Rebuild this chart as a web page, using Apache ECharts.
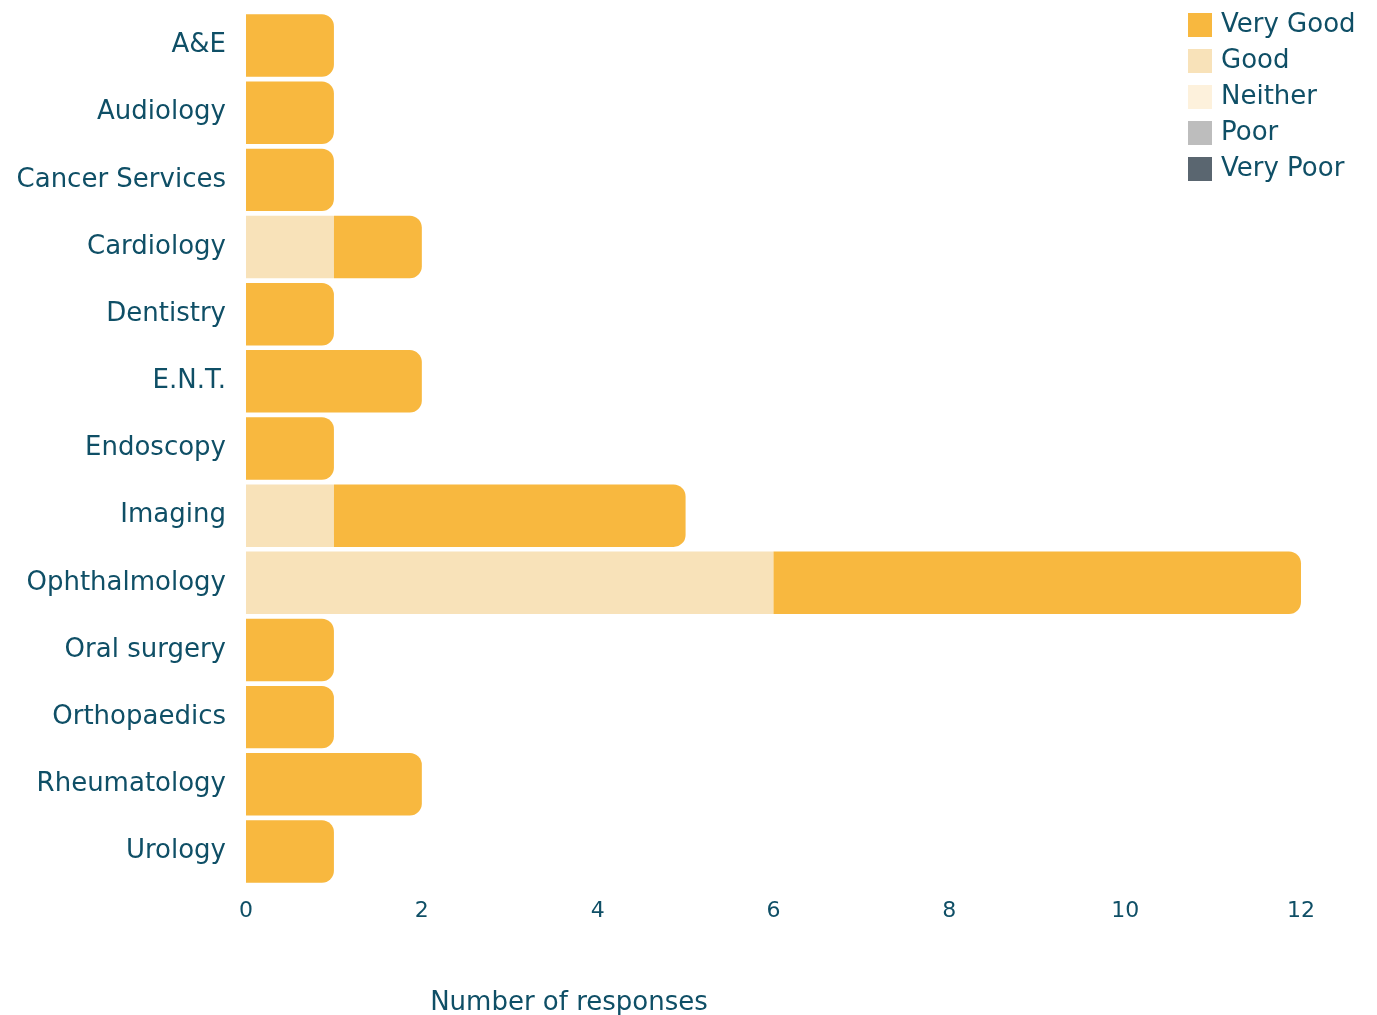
<!DOCTYPE html>
<html>
<head>
<meta charset="utf-8">
<script src="https://cdn.jsdelivr.net/npm/echarts@6/dist/echarts.min.js"></script>
<style>html,body{margin:0;padding:0;background:#fff;}#chart{width:1377px;height:1015px;}</style>
</head>
<body>
<div id="chart"></div>
<script>
const categories = ["A&E","Audiology","Cancer Services","Cardiology","Dentistry","E.N.T.","Endoscopy","Imaging","Ophthalmology","Oral surgery","Orthopaedics","Rheumatology","Urology"];
const veryPoor = [0,0,0,0,0,0,0,0,0,0,0,0,0];
const poor     = [0,0,0,0,0,0,0,0,0,0,0,0,0];
const neither  = [0,0,0,0,0,0,0,0,0,0,0,0,0];
const good     = [0,0,0,1,0,0,0,1,6,0,0,0,0];
const veryGood = [1,1,1,1,1,2,1,4,6,1,1,2,1];
const xTicks = [0,2,4,6,8,10,12];

const FONT = "'DejaVu Sans', sans-serif";
const TXT = '#0F4F66';
const colors = {'Very Good':'#F8B83F','Good':'#F8E2B9','Neither':'#FDF1DC','Poor':'#BDBDBD','Very Poor':'#5A6670'};

function mk(name, data, radius) {
  return {
    name, type:'bar', stack:'total', data,
    barCategoryGap:'7%',
    itemStyle:{color:colors[name], borderRadius: radius ? [0,12,12,0] : 0},
    emphasis:{disabled:true}
  };
}

const chart = echarts.init(document.getElementById('chart'), null, {renderer:'canvas'});
chart.setOption({
  animation:false,
  backgroundColor:'#fff',
  grid:{left:246, right:76, top:12, bottom:130, containLabel:false},
  legend:{
    orient:'vertical', left:1188, top:12, padding:0,
    itemWidth:24, itemHeight:24, itemGap:10,
    icon:'rect',
    data:['Very Good','Good','Neither','Poor','Very Poor'],
    textStyle:{color:TXT, fontSize:26, lineHeight:24, fontFamily:FONT, padding:[0,0,0,4]}
  },
  title:{
    text:'Number of responses', left:569, top:990, textAlign:'center', padding:0,
    textStyle:{color:TXT, fontSize:26, fontWeight:'normal', fontFamily:FONT}
  },
  xAxis:{
    type:'value', min:xTicks[0], max:xTicks[xTicks.length-1], interval:2,
    splitLine:{show:false}, axisLine:{show:false}, axisTick:{show:false},
    axisLabel:{color:TXT, fontSize:22, fontFamily:FONT, margin:15}
  },
  yAxis:{
    type:'category', data:categories, inverse:true,
    axisLine:{show:false}, axisTick:{show:false},
    axisLabel:{color:TXT, fontSize:26, fontFamily:FONT, margin:20}
  },
  series:[
    mk('Very Poor', veryPoor),
    mk('Poor', poor),
    mk('Neither', neither),
    mk('Good', good),
    mk('Very Good', veryGood, true)
  ]
});
</script>
</body>
</html>
